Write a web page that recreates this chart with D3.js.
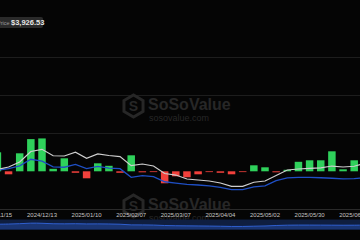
<!DOCTYPE html>
<html>
<head>
<meta charset="utf-8">
<script src="https://cdn.jsdelivr.net/npm/d3@7"></script>
<style>
  html, body { margin: 0; padding: 0; background: #050505; overflow: hidden; }
  svg { display: block; font-family: "Liberation Sans", Arial, sans-serif; }
</style>
</head>
<body>
<div id="viz"></div>
<script>
// weekly points (Friday), 2024/11/15 .. 2025/07/04
const weeks = ["2024-11-15", "2024-11-22", "2024-11-29", "2024-12-06", "2024-12-13", "2024-12-20",
    "2024-12-27", "2025-01-03", "2025-01-10", "2025-01-17", "2025-01-24", "2025-01-31",
    "2025-02-07", "2025-02-14", "2025-02-21", "2025-02-28", "2025-03-07", "2025-03-14",
    "2025-03-21", "2025-03-28", "2025-04-04", "2025-04-11", "2025-04-18", "2025-04-25",
    "2025-05-02", "2025-05-09", "2025-05-16", "2025-05-23", "2025-05-30", "2025-06-06",
    "2025-06-13", "2025-06-20", "2025-06-27", "2025-07-04"];

// weekly net inflow, US$ M
const netInflow = [494, -78, 468, 837, 855, 65, 338, -39, -182, 208, 143, -39,
    416, -26, -8, -312, -130, -156, -78, -18, -39, -78, -18, 156,
    104, -26, 39, 247, 286, 286, 520, 52, 286];

// ETH price, US$
const ethPrice = [2640, 2800, 3110, 3765, 3900, 3500, 3485, 3715, 3340, 3610, 3515, 3450,
    2880, 2985, 2860, 2395, 2300, 2055, 1990, 1930, 1805, 1600, 1600, 1850,
    1930, 2270, 2615, 2675, 2720, 2740, 2860, 2800, 2845, 3050];

// total net assets, US$ B
const netAssets = [9.7, 10.0, 10.6, 12.0, 11.6, 10.4, 10.3, 10.9, 10.0, 10.5, 10.1, 10.0,
    8.15, 8.5, 8.3, 7.2, 6.9, 6.65, 6.5, 6.3, 6.0, 5.5, 5.5, 6.1,
    6.3, 7.45, 8.05, 8.15, 8.15, 8.05, 7.95, 7.8, 7.85, 8.1];

const tickDates = ["2024-11-15", "2024-12-13", "2025-01-10", "2025-02-07", "2025-03-07",
    "2025-04-04", "2025-05-02", "2025-05-30", "2025-06-27"];

const priceLabel = "$3,926.53";

const width = 360;
const height = 240;
const parse = d3.utcParse("%Y-%m-%d");
const fmt = d3.utcFormat("%Y/%m/%d");

const svg = d3.select('#viz').append('svg')
    .attr('width', width)
    .attr('height', height);

svg.append('rect').attr('width', width).attr('height', height).attr('fill', '#050505');

const x = d3.scaleUtc()
    .domain([parse("2024-11-15"), parse("2025-07-04")])
    .range([-2.6, 365.35]);

const yBar = d3.scaleLinear().domain([-900, 900]).range([205.9, 136.7]);
const yPrice = d3.scaleLinear().domain([1600, 3900]).range([186.3, 149.3]);
const yAssets = d3.scaleLinear().domain([5.5, 12]).range([189.7, 159.3]);

// grid
svg.append('g').selectAll('line')
    .data([57, 95, 133])
    .enter().append('line')
    .attr('x1', 0).attr('x2', width)
    .attr('y1', d => d + 0.5).attr('y2', d => d + 0.5)
    .attr('stroke', '#1d1d1d');

// watermarks
function watermark(cy) {
    const g = svg.append('g').attr('fill', '#272727').attr('stroke', '#272727');
    const hex = d3.range(6).map(i => {
        const a = Math.PI / 3 * i + Math.PI / 6;
        return [133.5 + 11 * Math.cos(a), cy + 11 * Math.sin(a)];
    });
    g.append('path')
        .attr('d', 'M' + hex.join('L') + 'Z')
        .attr('fill', 'none')
        .attr('stroke-width', 3);
    g.append('text').attr('x', 133.5).attr('y', cy + 5).attr('text-anchor', 'middle')
        .attr('stroke', 'none').style('font-size', '14px').style('font-weight', 'bold').text('S');
    g.append('text').attr('x', 148).attr('y', cy + 4).attr('stroke', 'none')
        .style('font-size', '16px').style('font-weight', 'bold').text('SoSoValue');
    g.append('text').attr('x', 149).attr('y', cy + 14.5).attr('stroke', 'none')
        .style('font-size', '9px').text('sosovalue.com');
}
watermark(106);
watermark(206);

// bars
svg.append('g').selectAll('rect')
    .data(netInflow)
    .enter().append('rect')
    .attr('x', (d, i) => x(parse(weeks[i])) - 3.75)
    .attr('width', 7.5)
    .attr('y', d => yBar(Math.max(0, d)))
    .attr('height', d => Math.max(0.8, Math.abs(yBar(d) - yBar(0))))
    .attr('fill', d => d >= 0 ? '#2fd15b' : '#f2413c');

// lines
const priceLine = d3.line()
    .x((d, i) => x(parse(weeks[i])))
    .y(d => yPrice(d));
const assetsLine = d3.line()
    .x((d, i) => x(parse(weeks[i])))
    .y(d => yAssets(d));

svg.append('path').datum(netAssets)
    .attr('d', assetsLine)
    .attr('fill', 'none').attr('stroke', '#1f4fc4').attr('stroke-width', 1.3);
svg.append('path').datum(ethPrice)
    .attr('d', priceLine)
    .attr('fill', 'none').attr('stroke', '#cfcfcf').attr('stroke-width', 1.2);

// x axis line + labels
svg.append('line')
    .attr('x1', 0).attr('x2', width).attr('y1', 209.5).attr('y2', 209.5)
    .attr('stroke', '#2a2a2a');
svg.append('g').selectAll('text')
    .data(tickDates)
    .enter().append('text')
    .attr('x', d => x(parse(d)))
    .attr('y', 217.3)
    .attr('text-anchor', 'middle')
    .attr('fill', '#c4c4c4')
    .style('font-size', '6px')
    .text(d => fmt(parse(d)));

// navigator
const yNav = d3.scaleLinear().domain([5.5, 12]).range([226.5, 223]);
svg.append('rect').attr('x', 0).attr('y', 219.5).attr('width', width).attr('height', 10)
    .attr('fill', '#0f1e40');
svg.append('path').datum(netAssets)
    .attr('d', d3.area()
        .x((d, i) => x(parse(weeks[i])))
        .y0(229.5)
        .y1(d => yNav(d))
        .curve(d3.curveBasis))
    .attr('fill', '#1a3573');
svg.append('path').datum(netAssets)
    .attr('d', d3.line()
        .x((d, i) => x(parse(weeks[i])))
        .y(d => yNav(d))
        .curve(d3.curveBasis))
    .attr('fill', 'none').attr('stroke', '#2f5fcf').attr('stroke-width', 1);

// price tag
svg.append('rect').attr('x', -4).attr('y', 17).attr('width', 47).attr('height', 11).attr('rx', 2)
    .attr('fill', '#2a2a2a');
svg.append('text').attr('x', 9.5).attr('y', 24.8).attr('text-anchor', 'end')
    .attr('fill', '#9a9a9a').style('font-size', '5.5px').text('ETH Price');
svg.append('text').attr('x', 11).attr('y', 25.3)
    .attr('fill', '#e6e6e6').style('font-size', '7.5px').style('font-weight', 'bold').text(priceLabel);
</script>
</body>
</html>
